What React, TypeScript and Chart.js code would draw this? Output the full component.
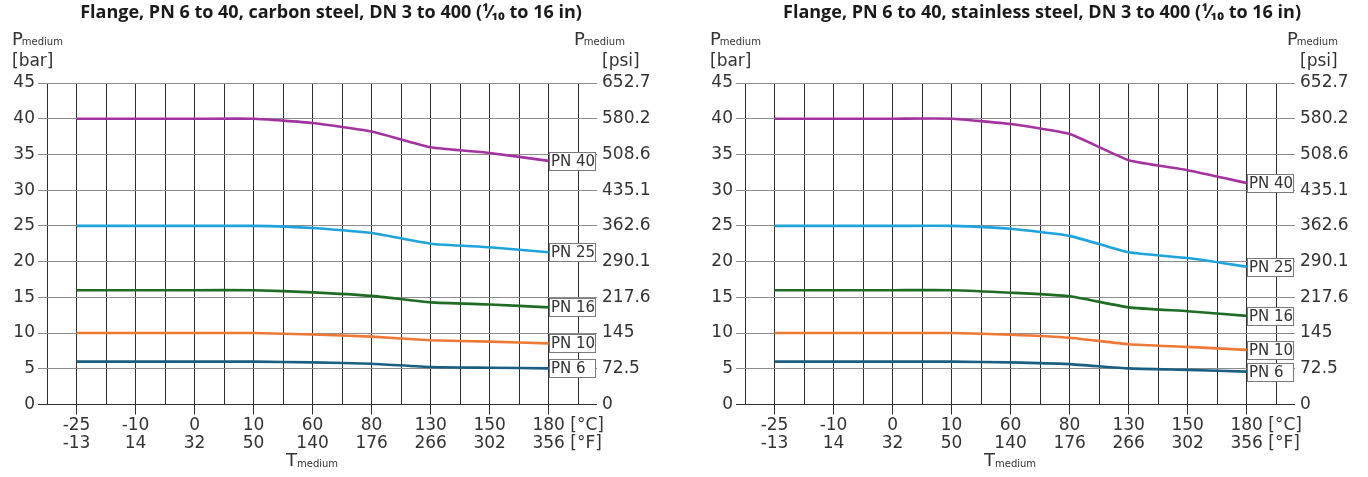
import React, { useEffect, useRef } from 'react';
import { Chart, registerables } from 'chart.js';

Chart.register(...registerables);

// ---- data ----
const tempC = ['-25', '-10', '0', '10', '60', '80', '130', '150', '180'];
const tempF = ['-13', '14', '32', '50', '140', '176', '266', '302', '356'];
const psiLabels = ['0', '72.5', '145', '217.6', '290.1', '362.6', '435.1', '508.6', '580.2', '652.7'];
const seriesNames = ['PN 40', 'PN 25', 'PN 16', 'PN 10', 'PN 6'];
const seriesColors = ['#a3349f', '#1ea3dc', '#1f6c25', '#ee7936', '#1a5f82'];

const carbonPN40 = [40, 40, 40, 40, 39.4, 38.2, 36.0, 35.2, 34.1];
const carbonPN25 = [25, 25, 25, 25, 24.7, 24.0, 22.5, 22.0, 21.3];
const carbonPN16 = [16, 16, 16, 16, 15.7, 15.2, 14.3, 14.0, 13.6];
const carbonPN10 = [10, 10, 10, 10, 9.8, 9.5, 9.0, 8.8, 8.55];
const carbonPN6 = [6, 6, 6, 6, 5.9, 5.7, 5.25, 5.15, 5.05];

const stainlessPN40 = [40, 40, 40, 40, 39.25, 37.85, 34.2, 32.8, 31.0];
const stainlessPN25 = [25, 25, 25, 25, 24.6, 23.6, 21.3, 20.5, 19.3];
const stainlessPN16 = [16, 16, 16, 16, 15.65, 15.15, 13.6, 13.05, 12.4];
const stainlessPN10 = [10, 10, 10, 10, 9.77, 9.35, 8.43, 8.06, 7.64];
const stainlessPN6 = [6, 6, 6, 6, 5.9, 5.65, 5.05, 4.85, 4.6];

const titleCarbon = 'Flange, PN 6 to 40, carbon steel, DN 3 to 400 (¹⁄₁₀ to 16 in)';
const titleStainless = 'Flange, PN 6 to 40, stainless steel, DN 3 to 400 (¹⁄₁₀ to 16 in)';

const H = 477;
const PLOT_RIGHT = 590;
const PLOT_BOTTOM = 404.5;
const TEXT = '#333333';
const FONT = '"DejaVu Sans", Verdana, sans-serif';

const decorPlugin = {
  id: 'decor',
  afterDatasetsDraw(chart: any) {
    const ctx = chart.ctx;
    ctx.save();
    chart.data.datasets.forEach((ds: any, i: number) => {
      const meta = chart.getDatasetMeta(i);
      const pt = meta.data[meta.data.length - 1];
      const bw = 46;
      const bh = 18;
      const bx = Math.round(pt.x) + 0.5;
      const by = Math.round(pt.y - bh / 2) + 0.5;
      ctx.fillStyle = '#ffffff';
      ctx.fillRect(bx, by, bw, bh);
      ctx.strokeStyle = '#7a7a7a';
      ctx.lineWidth = 1;
      ctx.strokeRect(bx, by, bw, bh);
      ctx.fillStyle = TEXT;
      ctx.font = `15px ${FONT}`;
      ctx.textAlign = 'left';
      ctx.textBaseline = 'middle';
      ctx.fillText(ds.label, bx + 1.5, by + bh / 2 + 0.5);
    });
    ctx.restore();
  },
  afterDraw(chart: any, _args: any, opts: any) {
    const ctx = chart.ctx;
    const xs = chart.scales.x;
    ctx.save();
    // title
    ctx.fillStyle = '#1a1a1a';
    ctx.font = `bold 18px "Open Sans", ${FONT}`;
    ctx.textAlign = 'center';
    ctx.textBaseline = 'alphabetic';
    ctx.fillText(opts.title, opts.titleX, 18);

    ctx.fillStyle = TEXT;
    ctx.textAlign = 'left';
    // left axis title
    ctx.font = `18px ${FONT}`;
    ctx.fillText('P', opts.pLeftX, 45);
    const pw = ctx.measureText('P').width;
    ctx.font = `10px ${FONT}`;
    ctx.fillText('medium', opts.pLeftX + pw - 1, 45);
    ctx.font = `17px ${FONT}`;
    ctx.fillText('[bar]', opts.pLeftX, 66);
    // right axis title
    ctx.font = `18px ${FONT}`;
    ctx.fillText('P', opts.pRightX, 45);
    ctx.font = `10px ${FONT}`;
    ctx.fillText('medium', opts.pRightX + pw - 1, 45);
    ctx.font = `17px ${FONT}`;
    ctx.fillText('[psi]', opts.psiX, 66);
    // bottom axis title
    ctx.font = `18px ${FONT}`;
    ctx.fillText('T', opts.tX, 466);
    const tw = ctx.measureText('T').width;
    ctx.font = `10px ${FONT}`;
    ctx.fillText('medium', opts.tX + tw, 467);

    // x tick labels
    ctx.font = `17px ${FONT}`;
    ctx.textBaseline = 'middle';
    tempC.forEach((c, i) => {
      const x = xs.getPixelForValue(i);
      ctx.textAlign = 'center';
      ctx.fillText(c, x, 426);
      ctx.fillText(tempF[i], x, 444);
      if (i === tempC.length - 1) {
        ctx.textAlign = 'left';
        const cw = ctx.measureText(c).width;
        const fw = ctx.measureText(tempF[i]).width;
        ctx.fillText(' [°C]', x + cw / 2, 426);
        ctx.fillText(' [°F]', x + fw / 2, 444);
      }
    });
    ctx.restore();
  },
};

function FlangeChart(props: {
  width: number;
  title: string;
  titleX: number;
  pRightX: number;
  psiX: number;
  values: number[][];
}) {
  const ref = useRef<HTMLCanvasElement | null>(null);
  useEffect(() => {
    if (!ref.current) return;
    const gridVals: number[] = [];
    for (let v = -0.5; v <= tempC.length - 0.5 + 1e-9; v += 0.5) gridVals.push(v);
    const chart = new Chart(ref.current, {
      type: 'line',
      data: {
        datasets: props.values.map((vals, k) => ({
          label: seriesNames[k],
          data: vals.map((v, i) => ({ x: i, y: v })),
          borderColor: seriesColors[k],
          backgroundColor: seriesColors[k],
          borderWidth: 2.6,
          pointRadius: 0,
          tension: 0.15,
          xAxisID: 'x',
          yAxisID: 'y',
        })),
      },
      options: {
        responsive: false,
        animation: false,
        events: [],
        layout: { padding: { top: 83, left: 0, right: 0, bottom: 0 } },
        plugins: {
          legend: { display: false },
          title: { display: false },
          tooltip: { enabled: false },
          decor: {
            title: props.title,
            titleX: props.titleX,
            pLeftX: 12,
            pRightX: props.pRightX,
            psiX: props.psiX,
            tX: 286,
          },
        } as any,
        scales: {
          x: {
            type: 'linear',
            min: -0.5,
            max: 8.7,
            afterBuildTicks: (s: any) => {
              s.ticks = gridVals.map((v) => ({ value: v }));
            },
            afterFit: (s: any) => {
              s.height = H - PLOT_BOTTOM;
            },
            ticks: { display: false },
            grid: {
              color: '#2e2e2e',
              lineWidth: 1,
              drawTicks: true,
              tickLength: 10,
              tickColor: (c: any) =>
                c.tick && Number.isInteger(c.tick.value) ? '#2e2e2e' : 'rgba(0,0,0,0)',
            },
            border: { display: true, color: '#2e2e2e', width: 1 },
          },
          y: {
            type: 'linear',
            position: 'left',
            min: 0,
            max: 45,
            afterFit: (s: any) => {
              s.width = 47;
            },
            ticks: {
              stepSize: 5,
              color: TEXT,
              padding: 3,
              font: { family: FONT, size: 17 },
            },
            grid: {
              color: (c: any) => (c.tick && c.tick.value === 0 ? '#2e2e2e' : '#8c8c8c'),
              lineWidth: 1,
              tickLength: 9,
            },
            border: { display: false },
          },
          y2: {
            type: 'linear',
            position: 'right',
            min: 0,
            max: 45,
            afterFit: (s: any) => {
              s.width = props.width - PLOT_RIGHT;
            },
            ticks: {
              stepSize: 5,
              color: TEXT,
              padding: 5,
              font: { family: FONT, size: 17 },
              callback: (v: any) => psiLabels[Math.round(Number(v) / 5)],
            },
            grid: {
              drawOnChartArea: false,
              color: (c: any) => (c.tick && c.tick.value === 0 ? '#2e2e2e' : '#8c8c8c'),
              lineWidth: 1,
              tickLength: 7,
            },
            border: { display: false },
          },
        },
      } as any,
      plugins: [decorPlugin],
    });
    return () => chart.destroy();
  }, []);
  return (
    <canvas
      ref={ref}
      width={props.width}
      height={H}
      style={{ width: props.width, height: H, display: 'block' }}
    />
  );
}

export default function App() {
  return (
    <div
      style={{
        position: 'absolute',
        left: 0,
        top: 0,
        width: 1368,
        height: H,
        overflow: 'hidden',
        background: '#ffffff',
      }}
    >
      <div style={{ position: 'absolute', left: 0, top: 0 }}>
        <FlangeChart
          width={684}
          title={titleCarbon}
          titleX={331}
          pRightX={574}
          psiX={602}
          values={[carbonPN40, carbonPN25, carbonPN16, carbonPN10, carbonPN6]}
        />
      </div>
      <div style={{ position: 'absolute', left: 698, top: 0 }}>
        <FlangeChart
          width={670}
          title={titleStainless}
          titleX={344}
          pRightX={589}
          psiX={602}
          values={[stainlessPN40, stainlessPN25, stainlessPN16, stainlessPN10, stainlessPN6]}
        />
      </div>
    </div>
  );
}
